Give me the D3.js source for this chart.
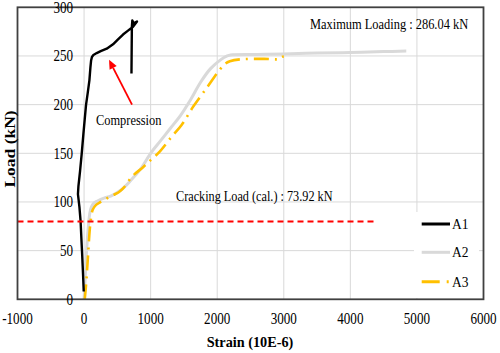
<!DOCTYPE html>
<html><head><meta charset="utf-8">
<script src="https://cdn.jsdelivr.net/npm/d3@7"></script>
<style>body{margin:0;background:#fff}svg{display:block}</style>
</head><body><svg id="c" width="500" height="353"></svg>
<script>
const xTicks = [-1000, 0, 1000, 2000, 3000, 4000, 5000, 6000];
const yTicks = [0, 50, 100, 150, 200, 250, 300];
const seriesNames = ["A1", "A2", "A3"];
const seriesColors = ["#000000", "#d9d9d9", "#ffc000"];
const a1 = [[-5,8],[-15,25],[-28,45],[-40,62],[-52,80],[-70,95],[-92,108],[-85,116],[-60,132],[-35,150],[-10,170],[10,185],[30,200],[55,212],[80,225],[95,238],[105,245],[118,249],[140,251],[190,253],[250,255],[340,257.5],[435,262],[510,267],[585,272],[660,276],[735,280],[795,285.5],[745,283.5],[725,286.5],[718,280],[712,232]];
const a2 = [[0,0],[15,20],[30,40],[45,58],[65,75],[85,88],[110,95],[150,99],[200,101],[300,104],[400,106],[550,112],[700,122],[850,134],[1000,150],[1150,163],[1300,176],[1450,189],[1600,205],[1750,223],[1900,237],[2050,246],[2150,250],[2200,251],[2600,251.5],[3000,252],[3500,253],[4000,253.5],[4500,254.5],[4840,255]];
const a3 = [[10,0],[30,15],[45,30],[60,45],[75,62],[95,78],[130,92],[180,97],[250,100],[350,104],[435,107],[520,110],[600,115],[720,126],[890,136],[1000,143],[1140,152],[1315,167],[1465,179],[1640,198],[1840,217],[2040,236],[2120,242],[2190,244.5],[2340,246.5],[2700,247],[2940,247],[2970,249],[3000,249.5]];
const seriesData = [a1, a2, a3];
const crackLine = {value: 80, from: -1000, to: 4370};
const arrowFrom = [720, 200], arrowTo = [375, 246];
const labels = {
  maxLoad: "Maximum Loading : 286.04 kN",
  crack: "Cracking Load (cal.) : 73.92 kN",
  comp: "Compression",
  xTitle: "Strain (10E-6)",
  yTitle: "Load (kN)"
};

const svg = d3.select("#c");
const font = "'Liberation Serif','Times New Roman',serif";
const x = d3.scaleLinear().domain([-1000, 6000]).range([17.5, 483.5]);
const y = d3.scaleLinear().domain([0, 300]).range([299.3, 7.3]);

function stext(g, tx, ty, sx, size, anchor, str, weight) {
  return g.append("text").attr("transform", `translate(${tx},${ty}) scale(${sx},1)`)
    .attr("text-anchor", anchor || "start").attr("font-family", font).attr("font-size", size)
    .attr("font-weight", weight || "normal").attr("fill", "#000").text(str);
}

// gridlines
svg.append("g").selectAll("line").data(xTicks.slice(1, -1)).join("line")
  .attr("x1", d => x(d)).attr("x2", d => x(d)).attr("y1", y(0)).attr("y2", y(300))
  .attr("stroke", "#d9d9d9").attr("stroke-width", 1);
svg.append("g").selectAll("line").data(yTicks.slice(1, -1)).join("line")
  .attr("x1", x(-1000)).attr("x2", x(6000)).attr("y1", d => y(d)).attr("y2", d => y(d))
  .attr("stroke", "#d9d9d9").attr("stroke-width", 1);

// legend background (covers gridlines)
svg.append("rect").attr("x", 414).attr("y", 212).attr("width", 65).attr("height", 86).attr("fill", "#fff");

// series
const smooth = d3.line().x(d => x(d[0])).y(d => y(d[1])).curve(d3.curveCatmullRom.alpha(0.5));
const straight = d3.line().x(d => x(d[0])).y(d => y(d[1]));
const widths = [2.4, 3, 2.6];
const dashes = [null, null, "15,6,2,6"];
[1, 2, 0].forEach(i => {
  svg.append("path").datum(seriesData[i]).attr("d", i === 0 ? straight : smooth)
    .attr("fill", "none").attr("stroke", seriesColors[i]).attr("stroke-width", widths[i])
    .attr("stroke-dasharray", dashes[i]).attr("stroke-linejoin", "round");
});

// cracking line
svg.append("line").attr("x1", x(crackLine.from)).attr("x2", x(crackLine.to))
  .attr("y1", y(crackLine.value)).attr("y2", y(crackLine.value))
  .attr("stroke", "#ff0000").attr("stroke-width", 2).attr("stroke-dasharray", "6,4");

// arrow
const ax1 = x(arrowFrom[0]), ay1 = y(arrowFrom[1]), ax2 = x(arrowTo[0]), ay2 = y(arrowTo[1]);
const ang = Math.atan2(ay2 - ay1, ax2 - ax1);
const hl = 9, hw = 4;
const bx = ax2 - hl * Math.cos(ang), by = ay2 - hl * Math.sin(ang);
svg.append("line").attr("x1", ax1).attr("y1", ay1).attr("x2", bx).attr("y2", by)
  .attr("stroke", "#ff0000").attr("stroke-width", 1.8);
svg.append("path").attr("d", `M${ax2},${ay2}L${bx + hw * Math.sin(ang)},${by - hw * Math.cos(ang)}L${bx - hw * Math.sin(ang)},${by + hw * Math.cos(ang)}Z`)
  .attr("fill", "#ff0000");

// border
svg.append("rect").attr("x", x(-1000)).attr("y", y(300)).attr("width", x(6000) - x(-1000)).attr("height", y(0) - y(300))
  .attr("fill", "none").attr("stroke", "#404040").attr("stroke-width", 1.8);

// tick labels
const tg = svg.append("g");
yTicks.forEach(d => stext(tg, x(0) - 11, y(d) + 5.5, 0.82, 16, "end", d));
xTicks.forEach(d => stext(tg, x(d), 324, 0.82, 16, "middle", d));

// titles
stext(svg, 250, 346.5, 0.92, 15.5, "middle", labels.xTitle, "bold");
svg.append("text").attr("transform", "translate(15,149) rotate(-90) scale(1,0.8)").attr("text-anchor", "middle")
  .attr("font-family", font).attr("font-size", 17.5).attr("font-weight", "bold").text(labels.yTitle);

// annotations
stext(svg, 310, 29, 0.9, 13.8, "start", labels.maxLoad);
stext(svg, 176, 201, 0.9, 13.6, "start", labels.crack);
stext(svg, 96, 125, 0.9, 13.8, "start", labels.comp);

// legend
const legY = [224, 252.3, 281.7];
const legDash = [null, null, "18,7,2,7"];
seriesNames.forEach((n, i) => {
  svg.append("line").attr("x1", 421.7).attr("x2", 450).attr("y1", legY[i]).attr("y2", legY[i])
    .attr("stroke", seriesColors[i]).attr("stroke-width", 3).attr("stroke-dasharray", legDash[i]);
  stext(svg, 452, legY[i] + 5, 0.9, 15, "start", n);
});
</script></body></html>
